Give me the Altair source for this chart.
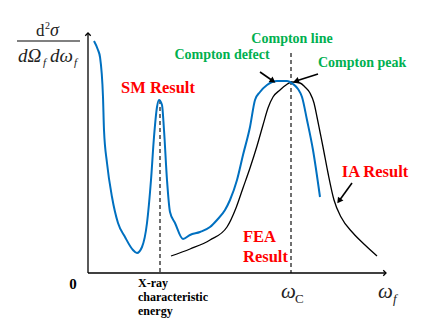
import math
import altair as alt
import pandas as pd

# ---- data (image pixel coordinates) ----
sm_x = [94, 98, 100, 103, 104, 107, 112, 118, 125, 133, 137, 142, 147, 151, 154, 157, 159,
        162, 164, 167, 170, 175, 183, 190, 200, 210, 217, 225, 230, 237, 243, 250, 255,
        260, 267, 277, 287, 293, 298, 302, 307, 313, 320]
sm_y = [41, 50, 57, 97, 130, 163, 197, 223, 237, 250, 253, 247, 223, 180, 137, 107, 100,
        105, 130, 180, 212, 223, 239, 235, 232, 227, 220, 210, 200, 180, 155, 127, 100,
        92, 85, 81, 81, 84, 89, 97, 120, 150, 197]

ia_x = [171, 190, 210, 227, 236, 243, 250, 257, 263, 268, 273, 280, 286, 292, 300, 305,
        310, 314, 317, 320, 323, 328, 334, 341, 353, 365, 377]
ia_y = [256, 249, 240, 227, 208, 188, 168, 146, 125, 108, 97, 90, 85, 82, 83, 87,
        93, 103, 117, 132, 147, 173, 200, 217, 233, 245, 256]

# reference lines (x, top, bottom)
dash_x = [160, 291]
dash_top = [100, 53]
dash_bottom = [273, 273]

# annotation arrows: tail -> head
arr_x1 = [260, 318, 352]
arr_y1 = [72, 74, 183]
arr_x2 = [273, 296, 339]
arr_y2 = [81, 81, 201]

# axes
axis_x1 = [88, 88]
axis_y1 = [273, 273]
axis_x2 = [88, 386]
axis_y2 = [33, 273]

BLUE = "#0070C0"
RED = "#FF0000"
GREEN = "#00B050"
SERIF = "Liberation Serif"

xs = alt.Scale(domain=[8, 428], nice=False, zero=False)
ys = alt.Scale(domain=[8, 319], nice=False, zero=False, reverse=True)
X = alt.X("x:Q", scale=xs, axis=None)
Y = alt.Y("y:Q", scale=ys, axis=None)

sm = pd.DataFrame({"x": sm_x, "y": sm_y})
ia = pd.DataFrame({"x": ia_x, "y": ia_y})

sm_line = alt.Chart(sm).mark_line(color=BLUE, strokeWidth=2, interpolate="monotone").encode(x=X, y=Y)
ia_line = alt.Chart(ia).mark_line(color="black", strokeWidth=1.3, interpolate="monotone").encode(x=X, y=Y)

dash = alt.Chart(pd.DataFrame({"x": dash_x, "y": dash_top, "y2": dash_bottom})).mark_rule(
    color="#333333", strokeWidth=1.4, strokeDash=[4, 3]).encode(x=X, y=Y, y2="y2:Q")

axes = alt.Chart(pd.DataFrame({"x": axis_x1, "y": axis_y1, "x2": axis_x2, "y2": axis_y2})).mark_rule(
    color="black", strokeWidth=1.3).encode(x=X, y=Y, x2="x2:Q", y2="y2:Q")

axis_heads = alt.Chart(pd.DataFrame({"x": [88, 386], "y": [33, 273], "a": [0, 90]})).mark_point(
    shape="M -1 1 L 0 0 L 1 1", filled=False, color="black", strokeWidth=1.3, size=30, opacity=1
).encode(x=X, y=Y, angle=alt.Angle("a:Q", scale=None))

arrows = pd.DataFrame({"x": arr_x1, "y": arr_y1, "x2": arr_x2, "y2": arr_y2})
arrows["a"] = [
    (math.degrees(math.atan2(x2 - x1, -(y2 - y1))) + 360) % 360
    for x1, y1, x2, y2 in zip(arr_x1, arr_y1, arr_x2, arr_y2)
]
arrow_shafts = alt.Chart(arrows).mark_rule(color="black", strokeWidth=1.6).encode(
    x=X, y=Y, x2="x2:Q", y2="y2:Q")
arrow_heads = alt.Chart(arrows).mark_point(shape="triangle-up", filled=True, color="black",
                                           size=45, opacity=1).encode(
    x=alt.X("x2:Q", scale=xs, axis=None), y=alt.Y("y2:Q", scale=ys, axis=None),
    angle=alt.Angle("a:Q", scale=None))

frac = alt.Chart(pd.DataFrame({"x": [17], "y": [41], "x2": [80]})).mark_rule(
    color="#808080", strokeWidth=2).encode(x=X, y=Y, x2="x2:Q")


def texts(xv, yv, tv, **mark):
    df = pd.DataFrame({"x": xv, "y": yv, "t": tv})
    return alt.Chart(df).mark_text(baseline="alphabetic", font=SERIF, **mark).encode(
        x=X, y=Y, text="t:N")


red_c = texts([158, 375], [93, 177], ["SM Result", "IA Result"],
              color=RED, fontSize=16.5, fontWeight="bold", align="center")
red_l = texts([243, 243], [242, 262], ["FEA", "Result"],
              color=RED, fontSize=16.5, fontWeight="bold", align="left")
green_c = texts([292, 222], [43, 59], ["Compton line", "Compton defect"],
                color=GREEN, fontSize=14, fontWeight="bold", align="center")
green_l = texts([318], [67], ["Compton peak"],
                color=GREEN, fontSize=14, fontWeight="bold", align="left")
xray = texts([138, 138, 138], [287, 301, 315], ["X-ray", "characteristic", "energy"],
             color="black", fontSize=12, fontWeight="bold", align="left")
zero = texts([73], [289], ["0"], color="black", fontSize=15, fontWeight="bold", align="center")

MATH = "#222222"
omega_big = texts([281, 378], [298, 298], ["ω", "ω"], color=MATH, fontSize=21,
                  fontStyle="italic", align="left")
omega_c = texts([295], [303], ["C"], color=MATH, fontSize=13, align="left")
omega_f = texts([393], [303], ["f"], color=MATH, fontSize=13, fontStyle="italic", align="left")

num_d = texts([36], [36], ["d"], color=MATH, fontSize=17, align="left")
num_2 = texts([45], [29], ["2"], color=MATH, fontSize=10, align="left")
num_s = texts([50], [36], ["σ"], color=MATH, fontSize=18, fontStyle="italic", align="left")
den_main = texts([18, 50], [62, 62], ["dΩ", "dω"], color=MATH, fontSize=19,
                 fontStyle="italic", align="left")
den_sub = texts([43, 74], [66, 66], ["f", "f"], color=MATH, fontSize=11,
                fontStyle="italic", align="left")

chart = alt.layer(
    dash, axes, axis_heads, ia_line, sm_line, arrow_shafts, arrow_heads, frac,
    red_c, red_l, green_c, green_l, xray, zero, omega_big, omega_c, omega_f,
    num_d, num_2, num_s, den_main, den_sub,
).properties(
    width=420, height=311, padding=0, autosize="none", background="white"
).configure_view(stroke=None)

chart.save("out.html", embed_options={"renderer": "svg", "actions": False})
